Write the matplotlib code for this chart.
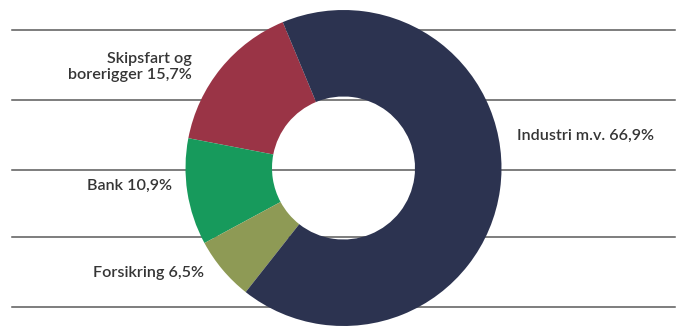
import matplotlib
matplotlib.use("Agg")
import matplotlib.pyplot as plt

# Data
categories = ["Skipsfart og\nborerigger 15,7%", "Bank 10,9%", "Forsikring 6,5%", "Industri m.v. 66,9%"]
values = [15.7, 10.9, 6.5, 66.9]
colors = ["#9a3446", "#179a5c", "#8e9a55", "#2c3350"]

W, H = 684, 327
fig = plt.figure(figsize=(W / 100, H / 100), dpi=100)
ax = fig.add_axes([0, 0, 1, 1])

# background horizontal rules
for yp in [30, 100, 170, 237, 307]:
    ax.plot([12, 675], [H - yp, H - yp], color="#5a5a5a", lw=1.1, zorder=1)

cx, cy = 343.5, H - 168
R, r = 158, 71.5
ax.pie(values, colors=colors, startangle=112.6, counterclock=True,
       center=(cx, cy), radius=R, frame=True,
       wedgeprops=dict(width=R - r, linewidth=0, zorder=2))
ax.set_xlim(0, W)
ax.set_ylim(0, H)
ax.set_aspect("equal")
ax.axis("off")

font = "Lato"
tc = "#353535"
fs = 11.6
fw = "semibold"
ax.text(192, H - 67, categories[0], ha="right", va="center", fontsize=fs,
        family=font, weight=fw, color=tc, linespacing=1.1, multialignment="right", zorder=3)
ax.text(172, H - 186, categories[1], ha="right", va="center", fontsize=fs,
        family=font, weight=fw, color=tc, zorder=3)
ax.text(204, H - 273, categories[2], ha="right", va="center", fontsize=fs,
        family=font, weight=fw, color=tc, zorder=3)
ax.text(517, H - 136, categories[3], ha="left", va="center", fontsize=fs,
        family=font, weight=fw, color=tc, zorder=3)

fig.savefig("out.png", dpi=100)
